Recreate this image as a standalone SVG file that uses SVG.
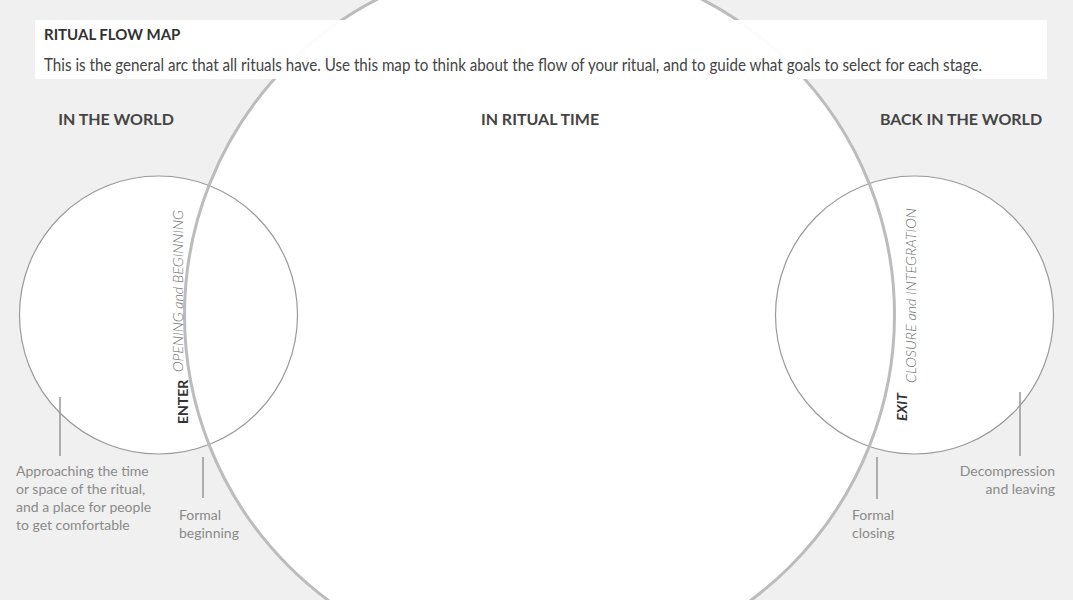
<svg xmlns="http://www.w3.org/2000/svg" width="1073" height="600" viewBox="0 0 1073 600">
<style>
text{font-family:Lato,"Noto Sans","Liberation Sans",sans-serif}
.hd{font-size:16px;font-weight:bold;fill:#444;text-anchor:middle}
.note{font-size:14px;fill:#8a8a8a}
.lead{stroke:#999;stroke-width:1.5}
.small{fill:#fff;stroke:#9a9a9a;stroke-width:1.2}
.stage{font-size:14.5px;font-style:italic;font-weight:300;fill:#707070}
.key{font-size:14px;font-weight:bold;fill:#333}
</style>
<rect width="1073" height="600" fill="#f0f0f0"/>
<circle cx="539.5" cy="315" r="355" fill="#fff"/>
<g id="world"><circle class="small" cx="158.5" cy="315" r="139"/></g>
<g id="back-world"><circle class="small" cx="914.5" cy="315" r="139"/></g>
<g id="ritual-time"><circle cx="539.5" cy="315" r="355" fill="none" stroke="#bcbcbc" stroke-width="3"/></g>
<g id="header">
<rect x="35" y="20" width="1012" height="59" fill="#fff" fill-opacity="0.95"/>
<text x="44" y="40" font-size="15" font-weight="bold" fill="#333">RITUAL FLOW MAP</text>
<text x="44" y="71" font-size="16.5" fill="#444" textLength="938" lengthAdjust="spacingAndGlyphs">This is the general arc that all rituals have. Use this map to think about the flow of your ritual, and to guide what goals to select for each stage.</text>
</g>
<text class="hd" x="116" y="125">IN THE WORLD</text>
<text class="hd" x="540" y="125">IN RITUAL TIME</text>
<text class="hd" x="961" y="125">BACK IN THE WORLD</text>
<g id="enter">
<text class="key" transform="translate(188,424) rotate(-90)">ENTER</text>
<text class="stage" transform="translate(183,372) rotate(-90)" textLength="162">OPENING and BEGINNING</text>
</g>
<g id="exit">
<text class="key" font-style="italic" transform="translate(907,421) rotate(-90)">EXIT</text>
<text class="stage" transform="translate(916,383) rotate(-90)" textLength="175">CLOSURE and INTEGRATION</text>
</g>
<g id="connectors">
<line class="lead" x1="60" y1="397" x2="60" y2="456"/>
<line class="lead" x1="203" y1="457" x2="203" y2="498"/>
<line class="lead" x1="877" y1="457" x2="877" y2="499"/>
<line class="lead" x1="1020" y1="392" x2="1020" y2="456"/>
</g>
<g id="note-approach">
<text class="note" x="16" y="476">Approaching the time</text>
<text class="note" x="16" y="494">or space of the ritual,</text>
<text class="note" x="16" y="512">and a place for people</text>
<text class="note" x="16" y="530">to get comfortable</text>
</g>
<g id="note-formal-beginning">
<text class="note" x="179" y="520">Formal</text>
<text class="note" x="179" y="538">beginning</text>
</g>
<g id="note-formal-closing">
<text class="note" x="852" y="520">Formal</text>
<text class="note" x="852" y="538">closing</text>
</g>
<g id="note-decompression">
<text class="note" x="1055" y="476" text-anchor="end">Decompression</text>
<text class="note" x="1055" y="494" text-anchor="end">and leaving</text>
</g>
</svg>
